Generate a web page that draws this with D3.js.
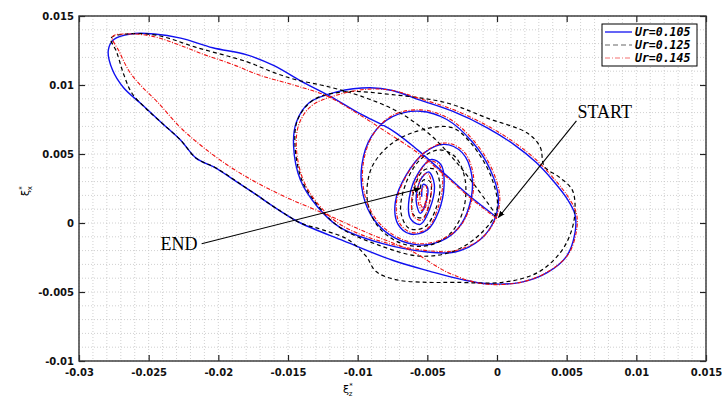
<!DOCTYPE html>
<html>
<head>
<meta charset="utf-8">
<script src="https://cdn.jsdelivr.net/npm/d3@7"></script>
<style>
  body { margin: 0; background: #fff; }
  svg { display: block; }
</style>
</head>
<body>
<div id="grafico"></div>
<script>
// tick values / labels
const xTicks = [-0.03, -0.025, -0.02, -0.015, -0.01, -0.005, 0, 0.005, 0.01, 0.015];
const xTickLabels = ["-0.03", "-0.025", "-0.02", "-0.015", "-0.01", "-0.005", "0", "0.005", "0.01", "0.015"];
const yTicks = [-0.01, -0.005, 0, 0.005, 0.01, 0.015];
const yTickLabels = ["-0.01", "-0.005", "0", "0.005", "0.01", "0.015"];

const seriesNames = ["Ur=0.105", "Ur=0.125", "Ur=0.145"];

// trajectories [xi_z, xi_x]
const ur105 = [
  [0.0000, 0.0004], [-0.0019, 0.0019], [-0.0038, 0.0036], [-0.0057, 0.0053], [-0.0075, 0.0067],
  [-0.0098, 0.0079], [-0.0120, 0.0092], [-0.0141, 0.0103], [-0.0160, 0.0114], [-0.0180, 0.0122],
  [-0.0204, 0.0127], [-0.0227, 0.0134], [-0.0246, 0.0137], [-0.0263, 0.0137], [-0.0275, 0.0133],
  [-0.0279, 0.0125], [-0.0276, 0.0111], [-0.0268, 0.0098], [-0.0255, 0.0086], [-0.0240, 0.0072],
  [-0.0227, 0.0060], [-0.0216, 0.0047], [-0.0202, 0.0040], [-0.0190, 0.0032], [-0.0175, 0.0022],
  [-0.0156, 0.0009], [-0.0141, 0.0000], [-0.0110, -0.0013], [-0.0075, -0.0027], [-0.0048, -0.0035],
  [-0.0025, -0.0041], [-0.0007, -0.0044], [0.0017, -0.0043], [0.0036, -0.0036], [0.0050, -0.0024],
  [0.0056, -0.0007], [0.0056, 0.0006], [0.0050, 0.0018], [0.0040, 0.0031], [0.0028, 0.0044],
  [0.0012, 0.0057], [-0.0007, 0.0069], [-0.0032, 0.0081], [-0.0055, 0.0089], [-0.0075, 0.0096],
  [-0.0091, 0.0098], [-0.0115, 0.0095], [-0.0135, 0.0087], [-0.0144, 0.0073], [-0.0146, 0.0056],
  [-0.0141, 0.0031], [-0.0129, 0.0012], [-0.0113, -0.0003], [-0.0082, -0.0015], [-0.0050, -0.0021],
  [-0.0030, -0.0021], [-0.0012, -0.0012], [-0.0002, 0.0002], [0.0001, 0.0018], [-0.0005, 0.0039],
  [-0.0018, 0.0059], [-0.0036, 0.0075], [-0.0055, 0.0081], [-0.0075, 0.0077], [-0.0090, 0.0063],
  [-0.0097, 0.0042], [-0.0096, 0.0020], [-0.0088, 0.0002], [-0.0073, -0.0011], [-0.0055, -0.0016],
  [-0.0040, -0.0013], [-0.0028, -0.0004], [-0.0020, 0.0012], [-0.0018, 0.0034], [-0.0025, 0.0051],
  [-0.0038, 0.0057], [-0.0052, 0.0051], [-0.0065, 0.0035], [-0.0073, 0.0015], [-0.0071, -0.0001],
  [-0.0062, -0.0008], [-0.0050, -0.0005], [-0.0042, 0.0008], [-0.0038, 0.0027], [-0.0040, 0.0042],
  [-0.0047, 0.0046], [-0.0056, 0.0037], [-0.0063, 0.0018], [-0.0062, 0.0003], [-0.0055, -0.0001],
  [-0.0048, 0.0011], [-0.0045, 0.0028], [-0.0049, 0.0037], [-0.0055, 0.0031], [-0.0058, 0.0016],
  [-0.0055, 0.0007], [-0.0051, 0.0015], [-0.0050, 0.0026], [-0.0053, 0.0028], [-0.0054, 0.0019]
];

const ur125 = [
  [0.0000, 0.0005], [-0.0015, 0.0026], [-0.0030, 0.0045], [-0.0048, 0.0064], [-0.0070, 0.0080],
  [-0.0095, 0.0091], [-0.0122, 0.0099], [-0.0145, 0.0104], [-0.0160, 0.0109], [-0.0180, 0.0117],
  [-0.0215, 0.0127], [-0.0244, 0.0136], [-0.0265, 0.0137], [-0.0277, 0.0134], [-0.0273, 0.0124],
  [-0.0268, 0.0108], [-0.0262, 0.0094], [-0.0252, 0.0083], [-0.0240, 0.0072], [-0.0227, 0.0060],
  [-0.0216, 0.0047], [-0.0202, 0.0040], [-0.0175, 0.0022], [-0.0156, 0.0009], [-0.0141, 0.0000],
  [-0.0125, -0.0005], [-0.0107, -0.0012], [-0.0094, -0.0024], [-0.0087, -0.0035], [-0.0073, -0.0041],
  [-0.0050, -0.0043], [-0.0030, -0.0043], [0.0004, -0.0043], [0.0029, -0.0036], [0.0045, -0.0022],
  [0.0053, -0.0007], [0.0056, 0.0009], [0.0054, 0.0024], [0.0045, 0.0033], [0.0034, 0.0041],
  [0.0031, 0.0055], [0.0022, 0.0065], [-0.0007, 0.0076], [-0.0036, 0.0087], [-0.0075, 0.0093],
  [-0.0110, 0.0095], [-0.0132, 0.0089], [-0.0143, 0.0075], [-0.0145, 0.0057], [-0.0140, 0.0031],
  [-0.0128, 0.0012], [-0.0113, -0.0003], [-0.0085, -0.0016], [-0.0055, -0.0024], [-0.0030, -0.0020],
  [-0.0010, -0.0006], [0.0000, 0.0010], [-0.0004, 0.0033], [-0.0018, 0.0057], [-0.0032, 0.0069],
  [-0.0052, 0.0068], [-0.0075, 0.0058], [-0.0090, 0.0040], [-0.0093, 0.0016], [-0.0085, -0.0003],
  [-0.0068, -0.0015], [-0.0048, -0.0016], [-0.0033, -0.0007], [-0.0024, 0.0010], [-0.0023, 0.0032],
  [-0.0030, 0.0048], [-0.0042, 0.0053], [-0.0056, 0.0045], [-0.0066, 0.0027], [-0.0069, 0.0008],
  [-0.0063, -0.0004], [-0.0052, -0.0003], [-0.0044, 0.0010], [-0.0041, 0.0028], [-0.0045, 0.0039],
  [-0.0053, 0.0038], [-0.0060, 0.0022], [-0.0060, 0.0006], [-0.0053, 0.0004], [-0.0048, 0.0017],
  [-0.0048, 0.0030], [-0.0053, 0.0031], [-0.0056, 0.0019]
];

const ur145 = [
  [0.0000, 0.0003], [-0.0019, 0.0018], [-0.0038, 0.0035], [-0.0057, 0.0051], [-0.0078, 0.0065],
  [-0.0098, 0.0078], [-0.0122, 0.0092], [-0.0146, 0.0100], [-0.0170, 0.0107], [-0.0190, 0.0115],
  [-0.0210, 0.0122], [-0.0228, 0.0129], [-0.0246, 0.0135], [-0.0263, 0.0137], [-0.0276, 0.0135],
  [-0.0271, 0.0124], [-0.0264, 0.0110], [-0.0256, 0.0100], [-0.0244, 0.0088], [-0.0227, 0.0069],
  [-0.0211, 0.0055], [-0.0192, 0.0041], [-0.0172, 0.0029], [-0.0150, 0.0018], [-0.0122, 0.0006],
  [-0.0091, -0.0008], [-0.0062, -0.0020], [-0.0035, -0.0036], [-0.0010, -0.0044], [0.0017, -0.0043],
  [0.0037, -0.0035], [0.0051, -0.0023], [0.0057, -0.0006], [0.0057, 0.0007], [0.0051, 0.0019],
  [0.0041, 0.0032], [0.0029, 0.0045], [0.0013, 0.0058], [-0.0006, 0.0070], [-0.0031, 0.0082],
  [-0.0055, 0.0090], [-0.0075, 0.0096], [-0.0092, 0.0097], [-0.0114, 0.0093], [-0.0133, 0.0085],
  [-0.0142, 0.0072], [-0.0144, 0.0055], [-0.0139, 0.0031], [-0.0127, 0.0012], [-0.0111, -0.0002],
  [-0.0081, -0.0014], [-0.0050, -0.0020], [-0.0030, -0.0020], [-0.0011, -0.0011], [-0.0001, 0.0003],
  [0.0002, 0.0019], [-0.0004, 0.0040], [-0.0017, 0.0060], [-0.0035, 0.0076], [-0.0055, 0.0082],
  [-0.0075, 0.0078], [-0.0089, 0.0064], [-0.0096, 0.0043], [-0.0095, 0.0021], [-0.0087, 0.0003],
  [-0.0072, -0.0010], [-0.0055, -0.0015], [-0.0040, -0.0012], [-0.0027, -0.0003], [-0.0019, 0.0013],
  [-0.0017, 0.0035], [-0.0024, 0.0052], [-0.0037, 0.0058], [-0.0051, 0.0052], [-0.0064, 0.0036],
  [-0.0072, 0.0016], [-0.0070, 0.0000], [-0.0061, -0.0007], [-0.0050, -0.0004], [-0.0043, 0.0009],
  [-0.0039, 0.0028], [-0.0041, 0.0041], [-0.0048, 0.0045], [-0.0056, 0.0036], [-0.0061, 0.0019],
  [-0.0060, 0.0005], [-0.0054, 0.0002], [-0.0049, 0.0013], [-0.0047, 0.0029], [-0.0050, 0.0036],
  [-0.0055, 0.0032], [-0.0057, 0.0018], [-0.0054, 0.0009], [-0.0051, 0.0017], [-0.0051, 0.0027],
  [-0.0054, 0.0024], [-0.0055, 0.0014], [-0.0052, 0.0010], [-0.0050, 0.0020]
];

// annotation anchors in data units
const startTip = [0.0001, 0.0004];
const startTail = [0.0057, 0.0074];
const endTip = [-0.0055, 0.0025];
const endTail = [-0.0212, -0.0015];

const margin = { top: 16, right: 16, bottom: 39, left: 79 };
const W = 722, H = 400;
const width = W - margin.left - margin.right;
const height = H - margin.top - margin.bottom;

const svgRoot = d3.select("#grafico").append("svg")
  .attr("width", W)
  .attr("height", H);

svgRoot.append("defs").append("marker")
  .attr("id", "arr")
  .attr("viewBox", "0 0 10 10")
  .attr("refX", 9).attr("refY", 5)
  .attr("markerWidth", 7).attr("markerHeight", 7)
  .attr("markerUnits", "userSpaceOnUse")
  .attr("orient", "auto")
  .append("path")
  .attr("d", "M0,1 L10,5 L0,9 Z")
  .attr("fill", "#000");

const svg = svgRoot.append("g")
  .attr("transform", "translate(" + margin.left + "," + margin.top + ")");

const x = d3.scaleLinear().domain([-0.03, 0.015]).range([0, width]);
const y = d3.scaleLinear().domain([-0.01, 0.015]).range([height, 0]);

// dotted minor grid
svg.append("g").selectAll("line")
  .data(x.ticks(45))
  .enter().append("line")
  .attr("x1", d => x(d)).attr("x2", d => x(d))
  .attr("y1", 0).attr("y2", height)
  .attr("stroke", "#c4c4c4").attr("stroke-width", 0.8)
  .attr("stroke-dasharray", "1,2");
svg.append("g").selectAll("line")
  .data(y.ticks(25))
  .enter().append("line")
  .attr("y1", d => y(d)).attr("y2", d => y(d))
  .attr("x1", 0).attr("x2", width)
  .attr("stroke", "#c4c4c4").attr("stroke-width", 0.8)
  .attr("stroke-dasharray", "1,2");

// axes, ticks pointing inward
const fmtX = d => xTickLabels[xTicks.indexOf(d)];
const fmtY = d => yTickLabels[yTicks.indexOf(d)];

const gx = svg.append("g")
  .attr("transform", "translate(0," + height + ")")
  .call(d3.axisBottom(x).tickValues(xTicks).tickFormat(fmtX).tickSizeInner(-6).tickSizeOuter(0).tickPadding(8));
const gy = svg.append("g")
  .call(d3.axisLeft(y).tickValues(yTicks).tickFormat(fmtY).tickSizeInner(-6).tickSizeOuter(0).tickPadding(5));
const gt = svg.append("g")
  .call(d3.axisTop(x).tickValues(xTicks).tickFormat("").tickSizeInner(-6).tickSizeOuter(0));
const gr = svg.append("g")
  .attr("transform", "translate(" + width + ",0)")
  .call(d3.axisRight(y).tickValues(yTicks).tickFormat("").tickSizeInner(-6).tickSizeOuter(0));

[gx, gy, gt, gr].forEach(g => {
  g.select(".domain").remove();
  g.selectAll(".tick line").attr("stroke", "#222").attr("stroke-width", 1.2);
  g.selectAll("text")
    .attr("fill", "#111")
    .attr("font-family", "DejaVu Sans")
    .attr("font-weight", "bold")
    .attr("font-size", "10px");
});

// trajectories
const line = d3.line()
  .x(d => x(d[0]))
  .y(d => y(d[1]))
  .curve(d3.curveCatmullRom.alpha(0.5));

svg.append("path").datum(ur105)
  .attr("d", line).attr("fill", "none")
  .attr("stroke", "#1010f0").attr("stroke-width", 1.4);

svg.append("path").datum(ur125)
  .attr("d", line).attr("fill", "none")
  .attr("stroke", "#000").attr("stroke-width", 1.2)
  .attr("stroke-dasharray", "4,3");

svg.append("path").datum(ur145)
  .attr("d", line).attr("fill", "none")
  .attr("stroke", "#f01010").attr("stroke-width", 1.1)
  .attr("stroke-dasharray", "4,1.5,1,1.5");

// frame
svg.append("rect")
  .attr("width", width).attr("height", height)
  .attr("fill", "none").attr("stroke", "#333").attr("stroke-width", 1.4);

// annotations
svg.append("line")
  .attr("x1", x(startTail[0])).attr("y1", y(startTail[1]))
  .attr("x2", x(startTip[0])).attr("y2", y(startTip[1]))
  .attr("stroke", "#000").attr("stroke-width", 1.1)
  .attr("marker-end", "url(#arr)");
svg.append("text")
  .attr("x", x(startTail[0]) + 1).attr("y", y(startTail[1]) - 3)
  .attr("font-family", "Liberation Serif").attr("font-size", "18px")
  .text("START");

svg.append("line")
  .attr("x1", x(endTail[0])).attr("y1", y(endTail[1]))
  .attr("x2", x(endTip[0])).attr("y2", y(endTip[1]))
  .attr("stroke", "#000").attr("stroke-width", 1.1)
  .attr("marker-end", "url(#arr)");
svg.append("text")
  .attr("x", x(endTail[0]) - 4).attr("y", y(endTail[1]) + 6)
  .attr("text-anchor", "end")
  .attr("font-family", "Liberation Serif").attr("font-size", "18px")
  .text("END");

// legend
const legend = svg.append("g").attr("transform", "translate(" + (width - 104) + ",8)");
legend.append("rect")
  .attr("width", 95).attr("height", 42)
  .attr("fill", "#fff").attr("stroke", "#000").attr("stroke-width", 1);
const legStroke = ["#1010f0", "#999", "#f7a0a0"];
const legDash = [null, "5,3", "5,2,1,2"];
seriesNames.forEach((name, i) => {
  legend.append("line")
    .attr("x1", 3).attr("x2", 30)
    .attr("y1", 8 + i * 13).attr("y2", 8 + i * 13)
    .attr("stroke", legStroke[i]).attr("stroke-width", 1.3)
    .attr("stroke-dasharray", legDash[i]);
  legend.append("text")
    .attr("x", 33).attr("y", 12 + i * 13)
    .attr("font-family", "DejaVu Sans Mono")
    .attr("font-weight", "bold").attr("font-style", "italic")
    .attr("font-size", "11.5px")
    .text(name);
});

// axis titles
const xt = svgRoot.append("text")
  .attr("x", 343).attr("y", 393)
  .attr("font-family", "DejaVu Sans").attr("font-size", "11px");
xt.append("tspan").text("ξ");
xt.append("tspan").attr("font-size", "7px").attr("dy", -5).text("*");
xt.append("tspan").attr("font-size", "7px").attr("dx", -4).attr("dy", 8).text("z");

const yt = svgRoot.append("text")
  .attr("transform", "translate(29,196) rotate(-90)")
  .attr("font-family", "DejaVu Sans").attr("font-size", "11px");
yt.append("tspan").text("ξ");
yt.append("tspan").attr("font-size", "7px").attr("dy", -5).text("*");
yt.append("tspan").attr("font-size", "7px").attr("dx", -4).attr("dy", 8).text("x");
</script>
</body>
</html>
